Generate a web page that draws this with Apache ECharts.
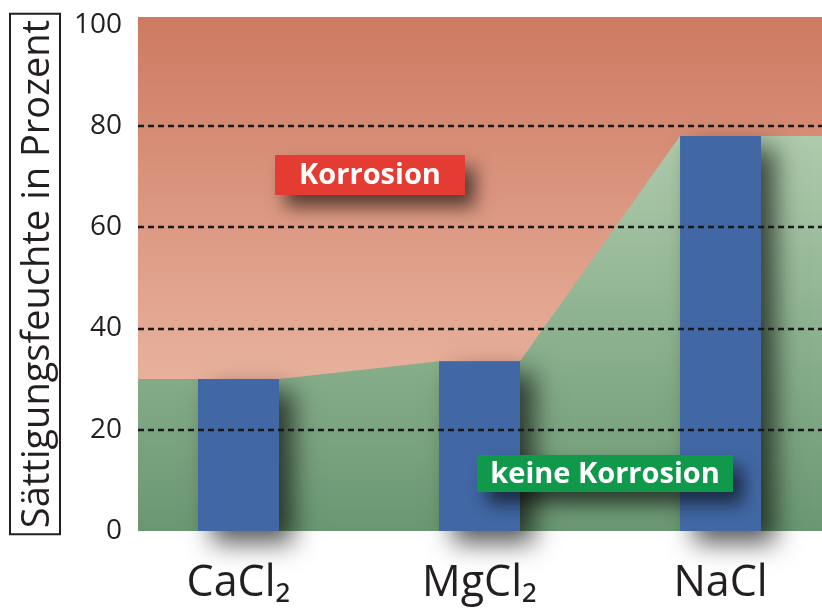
<!DOCTYPE html>
<html>
<head>
<meta charset="utf-8">
<script src="https://cdn.jsdelivr.net/npm/echarts@6/dist/echarts.min.js"></script>
<style>
  html, body { margin: 0; padding: 0; background: #ffffff; }
  #chart { width: 822px; height: 609px; }
</style>
</head>
<body>
<div id="chart"></div>
<script>
// Deliquescence (saturation) humidity of common de-icing salts, in percent
const salts = ['CaCl₂', 'MgCl₂', 'NaCl'];
const saturationHumidity = [30, 33.5, 78];
const yTickValues = [0, 20, 40, 60, 80, 100];
const gridLevels = [20, 40, 60, 80];

// x axis: salts sit at 0, 1, 2 on a value axis
const xMin = -0.417, xMax = 2.421;
const barHalf = 0.168;

// "keine Korrosion" zone boundary follows the bar tops
const boundary = [];
saturationHumidity.forEach((h, i) => {
  boundary.push([i === 0 ? xMin : i - barHalf, h]);
  boundary.push([i === salts.length - 1 ? xMax : i + barHalf, h]);
});

const chart = echarts.init(document.getElementById('chart'), null, { renderer: 'canvas' });
const sans = '"Open Sans", sans-serif';

// Zone caption: coloured box with a soft drop shadow and white bold text
function zoneLabel(id, x, y, w, h, text, fill) {
  return {
    type: 'group', id: id, x: x, y: y,
    children: [
      { type: 'rect', z: 100, shape: { x: 0, y: 0, width: w, height: h },
        style: { fill: fill, shadowColor: 'rgba(0,0,0,0.6)', shadowBlur: 18, shadowOffsetX: 10, shadowOffsetY: 12 } },
      { type: 'text', z: 101, x: w / 2, y: h / 2 + 1,
        style: { text: text, fill: '#ffffff', font: 'bold 29px ' + sans, align: 'center', verticalAlign: 'middle' } }
    ]
  };
}

chart.setOption({
  animation: false,
  grid: {
    left: 138, right: 0, top: 17, bottom: 78,
    show: true, borderWidth: 0,
    backgroundColor: new echarts.graphic.LinearGradient(0, 0, 0, 1, [
      { offset: 0, color: '#ce7a62' },
      { offset: 1, color: '#f2c8b4' }
    ])
  },
  xAxis: {
    type: 'value', min: xMin, max: xMax,
    axisLine: { show: false }, axisTick: { show: false }, splitLine: { show: false },
    axisLabel: {
      customValues: [0, 1, 2],
      formatter: v => salts[Math.round(v)],
      fontFamily: sans, fontSize: 43, color: '#231f20', margin: 31
    }
  },
  yAxis: {
    type: 'value', min: 0, max: 101.5,
    axisLine: { show: false }, axisTick: { show: false }, splitLine: { show: false },
    axisLabel: {
      customValues: yTickValues,
      fontFamily: sans, fontSize: 28, color: '#231f20', margin: 16
    },
    name: 'Sättigungsfeuchte in Prozent',
    nameLocation: 'middle', nameRotate: 90, nameGap: 78,
    nameTextStyle: {
      fontFamily: sans, fontSize: 38, color: '#231f20',
      borderColor: '#231f20', borderWidth: 2, padding: [9, 6, 3, 6]
    }
  },
  series: [
    {
      type: 'line', data: boundary, symbol: 'none', z: 2,
      lineStyle: { width: 0 },
      areaStyle: {
        opacity: 1,
        color: new echarts.graphic.LinearGradient(0, 0, 0, 1, [
          { offset: 0, color: '#aecbac' },
          { offset: 1, color: '#6a9772' }
        ])
      },
      markLine: {
        silent: true, symbol: 'none', label: { show: false },
        lineStyle: { color: '#1a1a1a', width: 2.4, type: [6, 4] },
        data: gridLevels.map(v => ({ yAxis: v }))
      }
    },
    {
      type: 'bar', z: 3, barWidth: 81,
      data: saturationHumidity.map((h, i) => [i, h]),
      itemStyle: {
        color: '#4168a5',
        shadowColor: 'rgba(0,0,0,0.65)', shadowBlur: 24,
        shadowOffsetX: 14, shadowOffsetY: 12
      }
    }
  ],
  graphic: [
    zoneLabel('corrosion', 275, 155, 190, 40, 'Korrosion', '#e43c32'),
    zoneLabel('noCorrosion', 477, 455, 256, 37, 'keine Korrosion', '#10994b')
  ]
});
</script>
</body>
</html>
